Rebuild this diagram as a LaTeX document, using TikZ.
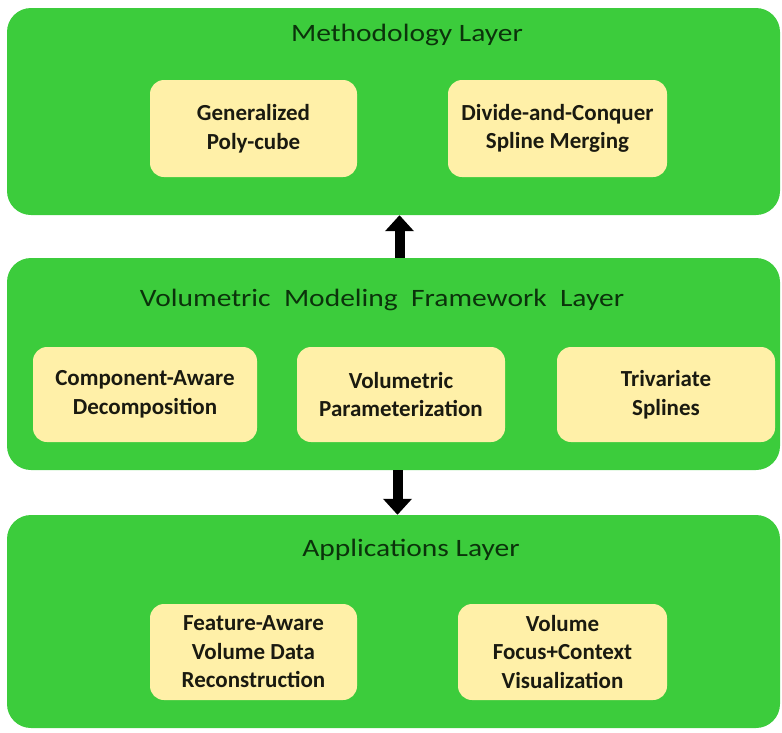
\documentclass[tikz,border=0pt]{standalone}
\usepackage{fontspec}
\setmainfont{Carlito}
\usetikzlibrary{arrows.meta}
\definecolor{layergreen}{HTML}{3CCC3C}
\definecolor{boxyellow}{HTML}{FFF0A8}
\definecolor{titletext}{HTML}{0B330B}
\definecolor{boxtext}{HTML}{1A1A10}
\newcommand{\widetitle}[1]{\scalebox{1.18}[1]{#1}}
\tikzset{
  layer/.style={fill=layergreen, draw=none, rounded corners=24pt, minimum width=773pt},
  layertitle/.style={text=titletext, font=\fontsize{25}{30}\selectfont, inner sep=0pt},
  item/.style={fill=boxyellow, draw=none, rounded corners=14pt, align=center, text=boxtext,
    font=\bfseries\fontsize{23}{28.5}\selectfont, inner sep=0pt},
  bigarrow/.style={line width=10pt, -{Triangle[width=28pt,length=16pt]}, black}
}
\begin{document}
\begin{tikzpicture}[x=1pt,y=-1pt]
\useasboundingbox (0,0) rectangle (782,732);
% layers
\node[layer, minimum height=207pt] (meth) at (393.5,111.5) {};
\node[layer, minimum height=212pt] (vol) at (393.5,364) {};
\node[layer, minimum height=213pt] (app) at (393.5,621.5) {};
% titles
\node[layertitle] (methT) at (407,35) {\widetitle{Methodology Layer}};
\node[layertitle] (volT) at (382,300) {\widetitle{Volumetric\ \ Modeling\ \ Framework\ \ Layer}};
\node[layertitle] (appT) at (411,550) {\widetitle{Applications Layer}};
% methodology items
\node[item, minimum width=207pt, minimum height=97pt] (gpc) at (253.5,128.5) {Generalized\\Poly-cube};
\node[item, minimum width=219pt, minimum height=97pt] (dcs) at (557.5,128.5) {Divide-and-Conquer\\Spline Merging};
% volumetric items
\node[item, minimum width=224pt, minimum height=95pt] (cad) at (145,394.5) {Component-Aware\\Decomposition};
\node[item, minimum width=208pt, minimum height=95pt] (vp) at (401,394.5) {Volumetric\\Parameterization};
\node[item, minimum width=218pt, minimum height=95pt] (ts) at (666,394.5) {Trivariate\\Splines};
% application items
\node[item, minimum width=207pt, minimum height=96pt] (fav) at (253.5,652) {Feature-Aware\\Volume Data\\Reconstruction};
\node[item, minimum width=209pt, minimum height=96pt] (vfc) at (562.5,652) {Volume\\Focus+Context\\Visualization};
% arrows
\draw[bigarrow] ([xshift=6pt]vol.north) -- ([xshift=6pt]meth.south);
\draw[bigarrow] ([xshift=4pt]vol.south) -- ([xshift=4pt]app.north);
\end{tikzpicture}
\end{document}
